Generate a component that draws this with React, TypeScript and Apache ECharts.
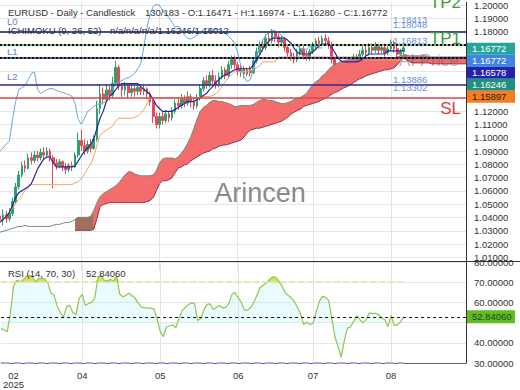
import React, { useEffect, useRef } from 'react';
import * as echarts from 'echarts';

// ---------- data ----------
const SLOTS = 150; // bar slots (130 candles + future space for the cloud)
const slotLabels: string[] = Array.from({ length: SLOTS }, (_, i) => String(i));

const monthLabels: Record<number, string> = { 4: '02\n2025', 26: '04', 51: '05', 76: '06', 100: '07', 125: '08' };
const monthLines = [26, 51, 76, 100, 125];

// [open, close, low, high]
const candles: number[][] = [
  [1.041, 1.038, 1.035, 1.044], [1.038, 1.042, 1.034, 1.046], [1.042, 1.039, 1.036, 1.045], [1.039, 1.043, 1.037, 1.047],
  [1.043, 1.052, 1.041, 1.055], [1.052, 1.063, 1.050, 1.066], [1.063, 1.072, 1.061, 1.075], [1.072, 1.079, 1.070, 1.082],
  [1.079, 1.077, 1.074, 1.083], [1.077, 1.085, 1.076, 1.088], [1.085, 1.083, 1.080, 1.089], [1.083, 1.087, 1.081, 1.090],
  [1.087, 1.085, 1.082, 1.090], [1.085, 1.089, 1.083, 1.092], [1.089, 1.087, 1.084, 1.093], [1.087, 1.090, 1.085, 1.093],
  [1.090, 1.085, 1.082, 1.092], [1.085, 1.081, 1.062, 1.087], [1.081, 1.079, 1.076, 1.084], [1.079, 1.082, 1.077, 1.084],
  [1.082, 1.078, 1.075, 1.083], [1.078, 1.076, 1.073, 1.081], [1.076, 1.079, 1.074, 1.081], [1.079, 1.078, 1.075, 1.082],
  [1.078, 1.087, 1.077, 1.089], [1.087, 1.098, 1.085, 1.104], [1.098, 1.094, 1.090, 1.106], [1.094, 1.090, 1.087, 1.099],
  [1.090, 1.095, 1.088, 1.098], [1.095, 1.092, 1.089, 1.099], [1.092, 1.099, 1.091, 1.102], [1.099, 1.122, 1.097, 1.128],
  [1.122, 1.133, 1.118, 1.140], [1.133, 1.129, 1.125, 1.138], [1.129, 1.136, 1.127, 1.140], [1.136, 1.132, 1.128, 1.139],
  [1.132, 1.141, 1.130, 1.146], [1.141, 1.153, 1.139, 1.158], [1.153, 1.139, 1.136, 1.155], [1.139, 1.136, 1.131, 1.141],
  [1.136, 1.139, 1.132, 1.142], [1.139, 1.134, 1.130, 1.141], [1.134, 1.137, 1.131, 1.140], [1.137, 1.135, 1.131, 1.139],
  [1.135, 1.138, 1.132, 1.141], [1.138, 1.135, 1.132, 1.140], [1.135, 1.137, 1.132, 1.140], [1.137, 1.133, 1.129, 1.138],
  [1.133, 1.127, 1.124, 1.135], [1.127, 1.116, 1.111, 1.129], [1.116, 1.110, 1.107, 1.119], [1.110, 1.116, 1.107, 1.119],
  [1.116, 1.113, 1.110, 1.120], [1.113, 1.118, 1.111, 1.121], [1.118, 1.115, 1.112, 1.120], [1.115, 1.120, 1.113, 1.123],
  [1.120, 1.126, 1.118, 1.129], [1.126, 1.124, 1.121, 1.130], [1.124, 1.129, 1.122, 1.133], [1.129, 1.126, 1.123, 1.132],
  [1.126, 1.131, 1.124, 1.135], [1.131, 1.127, 1.123, 1.133], [1.127, 1.124, 1.121, 1.130], [1.124, 1.130, 1.122, 1.133],
  [1.130, 1.137, 1.128, 1.140], [1.137, 1.143, 1.135, 1.146], [1.143, 1.140, 1.137, 1.147], [1.140, 1.147, 1.138, 1.150],
  [1.147, 1.143, 1.140, 1.151], [1.143, 1.140, 1.137, 1.147], [1.140, 1.146, 1.138, 1.149], [1.146, 1.151, 1.144, 1.154],
  [1.151, 1.147, 1.144, 1.153], [1.147, 1.155, 1.145, 1.158], [1.155, 1.159, 1.152, 1.162], [1.159, 1.155, 1.152, 1.162],
  [1.155, 1.150, 1.147, 1.157], [1.150, 1.152, 1.146, 1.155], [1.152, 1.148, 1.145, 1.154], [1.148, 1.151, 1.146, 1.153],
  [1.151, 1.149, 1.146, 1.154], [1.149, 1.158, 1.148, 1.161], [1.158, 1.165, 1.156, 1.168], [1.165, 1.170, 1.163, 1.173],
  [1.170, 1.168, 1.165, 1.174], [1.168, 1.175, 1.166, 1.178], [1.175, 1.173, 1.170, 1.179], [1.173, 1.179, 1.171, 1.182],
  [1.179, 1.176, 1.172, 1.181], [1.176, 1.172, 1.168, 1.178], [1.172, 1.174, 1.169, 1.177], [1.174, 1.168, 1.165, 1.176],
  [1.168, 1.164, 1.161, 1.170], [1.164, 1.161, 1.158, 1.167], [1.161, 1.159, 1.156, 1.164], [1.159, 1.164, 1.157, 1.167],
  [1.164, 1.167, 1.162, 1.170], [1.167, 1.162, 1.159, 1.169], [1.162, 1.160, 1.158, 1.166], [1.160, 1.165, 1.158, 1.167],
  [1.165, 1.170, 1.163, 1.172], [1.170, 1.173, 1.167, 1.175], [1.173, 1.171, 1.168, 1.176], [1.171, 1.175, 1.169, 1.177],
  [1.175, 1.173, 1.170, 1.178], [1.173, 1.170, 1.167, 1.176], [1.170, 1.159, 1.156, 1.172], [1.159, 1.150, 1.147, 1.161],
  [1.150, 1.142, 1.139, 1.152], [1.142, 1.140, 1.1385, 1.146], [1.140, 1.147, 1.139, 1.149], [1.147, 1.153, 1.145, 1.156],
  [1.153, 1.157, 1.151, 1.159], [1.157, 1.161, 1.155, 1.163], [1.161, 1.159, 1.156, 1.163], [1.159, 1.163, 1.157, 1.166],
  [1.163, 1.166, 1.161, 1.169], [1.166, 1.164, 1.161, 1.169], [1.164, 1.168, 1.162, 1.171], [1.168, 1.166, 1.163, 1.171],
  [1.166, 1.169, 1.164, 1.172], [1.169, 1.166, 1.163, 1.171], [1.166, 1.168, 1.164, 1.170], [1.168, 1.164, 1.161, 1.170],
  [1.164, 1.167, 1.162, 1.169], [1.167, 1.172, 1.165, 1.174], [1.172, 1.167, 1.164, 1.173], [1.167, 1.163, 1.160, 1.169],
  [1.163, 1.1647, 1.161, 1.167], [1.16471, 1.16772, 1.1628, 1.16974],
];

const tenkan: number[] = [
  1.0363, 1.0386, 1.0408, 1.0438, 1.049, 1.055, 1.0587, 1.0602, 1.0617, 1.0632,
  1.0654, 1.0707, 1.0766, 1.0804, 1.0841, 1.0856, 1.0856, 1.0811, 1.0781, 1.0781,
  1.0781, 1.0781, 1.0781, 1.0781, 1.0788, 1.0826, 1.0863, 1.09, 1.0923, 1.0952,
  1.099, 1.1072, 1.1147, 1.1199, 1.1273, 1.1311, 1.1333, 1.1363, 1.1393, 1.1408,
  1.1408, 1.1408, 1.1408, 1.1408, 1.1408, 1.1385, 1.1363, 1.1348, 1.1326, 1.1288,
  1.1244, 1.1221, 1.1199, 1.1199, 1.1199, 1.1199, 1.1214, 1.1229, 1.1244, 1.1258,
  1.1273, 1.1273, 1.1273, 1.1288, 1.1303, 1.1318, 1.1333, 1.1363, 1.1385, 1.1415,
  1.1438, 1.146, 1.1475, 1.1482, 1.1497, 1.1512, 1.152, 1.152, 1.152, 1.152,
  1.152, 1.1549, 1.1587, 1.1624, 1.1669, 1.1699, 1.1728, 1.1751, 1.1751, 1.1751,
  1.1751, 1.1751, 1.1736, 1.1713, 1.1676, 1.1646, 1.1631, 1.1631, 1.1631, 1.1631,
  1.1646, 1.1669, 1.1691, 1.1706, 1.1706, 1.1706, 1.1684, 1.1646, 1.1602, 1.1579,
  1.1572, 1.1572, 1.1572, 1.1572, 1.1572, 1.1579, 1.1594, 1.1617, 1.1631, 1.1631,
  1.1631, 1.1631, 1.1631, 1.1631, 1.1654, 1.1654, 1.1654, 1.1654, 1.1654, 1.16578,
];

const kijun: number[] = [
  1.0378, 1.0393, 1.0408, 1.0438, 1.0468, 1.0505, 1.0535, 1.0565, 1.0602, 1.0624,
  1.0647, 1.0647, 1.0647, 1.0647, 1.0647, 1.0647, 1.0647, 1.0647, 1.0647, 1.0647,
  1.0647, 1.0647, 1.0647, 1.0647, 1.0662, 1.0669, 1.0692, 1.0729, 1.0766, 1.0804,
  1.0856, 1.0945, 1.102, 1.1042, 1.1057, 1.1072, 1.1087, 1.1124, 1.1147, 1.1147,
  1.1147, 1.1147, 1.1147, 1.1154, 1.1162, 1.1184, 1.1214, 1.1258, 1.1303, 1.1303,
  1.1303, 1.1303, 1.1303, 1.1303, 1.1303, 1.1303, 1.1303, 1.1303, 1.1303, 1.1303,
  1.1303, 1.1303, 1.1303, 1.1303, 1.1311, 1.1311, 1.1311, 1.1311, 1.1318, 1.1333,
  1.1355, 1.1393, 1.1423, 1.1453, 1.1475, 1.1497, 1.1497, 1.1497, 1.1497, 1.1497,
  1.1505, 1.1512, 1.1527, 1.1542, 1.1572, 1.1572, 1.1572, 1.1572, 1.1572, 1.1609,
  1.1609, 1.1609, 1.1609, 1.1609, 1.1609, 1.1609, 1.1609, 1.1609, 1.1609, 1.1609,
  1.1609, 1.1609, 1.1609, 1.1609, 1.1609, 1.1609, 1.1609, 1.1609, 1.1609, 1.1609,
  1.1609, 1.1609, 1.1609, 1.1609, 1.1609, 1.1609, 1.1587, 1.1587, 1.1587, 1.1587,
  1.1587, 1.1587, 1.1587, 1.1587, 1.1587, 1.1587, 1.1587, 1.1587, 1.1587, 1.15897,
];

// light-blue lagging line (slots 0..103)
const lagging: number[] = [
  1.09, 1.0923, 1.0953, 1.0975, 1.1139, 1.1273, 1.1363, 1.1378, 1.1393, 1.1438,
  1.1482, 1.1497, 1.1363, 1.1333, 1.1348, 1.1363, 1.137, 1.137, 1.1356, 1.1348,
  1.1341, 1.1333, 1.1326, 1.1311, 1.1258, 1.1139, 1.1102, 1.1147, 1.1199, 1.1214,
  1.1236, 1.1251, 1.1258, 1.1266, 1.1273, 1.1311, 1.1363, 1.1408, 1.1423, 1.143,
  1.1445, 1.1453, 1.1467, 1.1482, 1.152, 1.1557, 1.1684, 1.1833, 1.193, 1.199,
  1.2005, 1.1997, 1.196, 1.193, 1.1907, 1.187, 1.1833, 1.184, 1.1811, 1.1773,
  1.1751, 1.1743, 1.1758, 1.1773, 1.1796, 1.1811, 1.1825, 1.1818, 1.1811, 1.1818,
  1.1818, 1.1803, 1.1788, 1.1766, 1.1743, 1.1714, 1.1646, 1.1542, 1.146, 1.1423,
  1.1438, 1.1512, 1.1609, 1.1676, 1.1736, 1.1773, 1.1796, 1.1811, 1.1803, 1.1788,
  1.1773, 1.1751, 1.1729, 1.1714, 1.1699, 1.1691, 1.1676, 1.1661, 1.1669, 1.1684,
  1.1691, 1.1684, 1.1676, 1.16772,
];

// Senkou span A (upper cloud edge), already shifted forward, one value per slot
const spanA: number[] = [
  1.0289, 1.0296, 1.0303, 1.0311, 1.0318, 1.0326, 1.0333, 1.0333, 1.0341, 1.0333,
  1.0333, 1.0333, 1.0333, 1.0333, 1.0333, 1.0333, 1.0333, 1.0341, 1.0348, 1.0348,
  1.0356, 1.0363, 1.0363, 1.0371, 1.0386, 1.0401, 1.0401, 1.0401, 1.0401, 1.0408,
  1.0453, 1.0512, 1.0557, 1.058, 1.0594, 1.0609, 1.0624, 1.0639, 1.0662, 1.0691,
  1.0721, 1.0744, 1.0744, 1.0729, 1.0721, 1.0714, 1.0714, 1.0714, 1.0714, 1.0721,
  1.0751, 1.0811, 1.0841, 1.0848, 1.0848, 1.0848, 1.0841, 1.0856, 1.0885, 1.0915,
  1.096, 1.1005, 1.1072, 1.1139, 1.1199, 1.1229, 1.1244, 1.1266, 1.1281, 1.1281,
  1.1273, 1.1273, 1.1266, 1.1258, 1.1251, 1.1236, 1.1236, 1.1244, 1.1244, 1.1244,
  1.1244, 1.1251, 1.1266, 1.1281, 1.1288, 1.1288, 1.1281, 1.1281, 1.1273, 1.1266,
  1.1258, 1.1258, 1.1266, 1.1273, 1.1288, 1.1296, 1.1303, 1.1318, 1.1333, 1.137,
  1.14, 1.1423, 1.1438, 1.1467, 1.1482, 1.1512, 1.1535, 1.1549, 1.1564, 1.1572,
  1.1579, 1.1587, 1.1587, 1.1587, 1.1587, 1.1594, 1.1594, 1.1594, 1.1594, 1.1594,
  1.1594, 1.1602, 1.1602, 1.1602, 1.1602, 1.1602, 1.1602, 1.1609, 1.1617, 1.16246,
  1.1624, 1.1617, 1.1617, 1.1617, 1.1617, 1.1617, 1.1617, 1.1609, 1.1609, 1.1609,
  1.1609, 1.1609, 1.1609, 1.1609, 1.1609, 1.1609, 1.1609, 1.1609, 1.1609, 1.1609,
];

// Senkou span B (lower cloud edge) starting at slot SPANB_START
const SPANB_START = 24;
const spanB: number[] = [
  1.0303, 1.0303, 1.0303, 1.0303, 1.0303, 1.0303,
  1.0311, 1.0393, 1.0482, 1.0497, 1.0505, 1.0512, 1.0512, 1.0512, 1.0512, 1.0512,
  1.0512, 1.0512, 1.0512, 1.0512, 1.0512, 1.0512, 1.0512, 1.052, 1.0527, 1.055,
  1.0602, 1.0654, 1.0676, 1.0676, 1.0684, 1.0699, 1.0736, 1.0773, 1.0781, 1.0796,
  1.0804, 1.0826, 1.0841, 1.0856, 1.087, 1.0885, 1.0893, 1.09, 1.0915, 1.0923,
  1.0937, 1.0945, 1.0945, 1.0952, 1.096, 1.0967, 1.0975, 1.0982, 1.1005, 1.1035,
  1.1057, 1.1064, 1.1072, 1.1072, 1.1079, 1.1087, 1.1094, 1.1102, 1.1109, 1.1117,
  1.1124, 1.1139, 1.1154, 1.1177, 1.1192, 1.1206, 1.1214, 1.1236, 1.1244, 1.1251,
  1.1258, 1.1266, 1.1273, 1.1288, 1.1296, 1.1311, 1.1326, 1.1341, 1.1348, 1.1363,
  1.1378, 1.1385, 1.14, 1.1415, 1.143, 1.1445, 1.1453, 1.1467, 1.1475, 1.1482,
  1.149, 1.1497, 1.1505, 1.1512, 1.1512, 1.152, 1.1527, 1.1549, 1.1579, 1.16012,
  1.1587, 1.1572, 1.1564, 1.1564, 1.1564, 1.1564, 1.1564, 1.1564, 1.1557, 1.1557,
  1.1557, 1.1557, 1.1557, 1.1557, 1.1557, 1.1557, 1.1557, 1.1557, 1.1557, 1.1557,
];
const BROWN_END = 30; // cloud turns red from this slot

const rsi: number[] = [
  47, 46.3, 45.5, 55, 68, 71, 70.3, 71, 72.8, 73.4,
  72.8, 70, 71.8, 72, 71.5, 69.7, 64.6, 63.5, 58, 55,
  52.6, 58, 58.5, 55, 54, 62, 64, 58.5, 59.5, 60,
  62, 72, 73.5, 71, 70.5, 71.5, 70.5, 73, 64.3, 62.7,
  63.5, 64.6, 63.3, 62, 59.5, 57.7, 57.4, 57.2, 57.2, 56.8,
  52, 45.5, 43, 47.8, 48.3, 48.8, 47.4, 52, 55.8, 57.5,
  58.8, 59.8, 59.5, 51, 52, 56.3, 59, 59.3, 56.5, 57.5,
  58.5, 57.2, 57.5, 59.5, 64, 65, 62.2, 60, 56.2, 56.2,
  57.5, 60, 63.5, 67.4, 68.5, 69.6, 71.3, 72.6, 72.4, 70.5,
  68.2, 65, 63.5, 62.2, 60.3, 57.5, 54.2, 49, 50.2, 49,
  49.7, 55.5, 60.5, 63, 62.5, 61, 52, 43, 38, 32.8,
  41, 47.3, 47.8, 50.6, 53.5, 51.5, 49.9, 51.6, 54.8, 54.5,
  54.6, 54, 52.3, 51.4, 48, 53.5, 48.5, 48.9, 50.3, 52.84,
];

const levels = [
  { name: 'TP2', value: 1.18413, color: '#4caf50', tag: '' },
  { name: 'L0', value: 1.18048, color: '#2c2c8c', tag: 'L0' },
  { name: 'TP1', value: 1.16813, color: '#4caf50', tag: '' },
  { name: 'L1', value: 1.1575, color: '#2c2c8c', tag: 'L1' },
  { name: 'L2', value: 1.13886, color: '#2c2c8c', tag: 'L2' },
  { name: 'SL', value: 1.13302, color: '#e04848', tag: '' },
];
const levelPriceLabels = [1.18413, 1.18048, 1.16813, 1.13886, 1.13302];

const priceTags = [
  { value: 1.16772, bg: '#26a69a', fg: '#ffffff' },
  { value: 1.16772, bg: '#3f84e5', fg: '#ffffff' },
  { value: 1.16578, bg: '#2222aa', fg: '#ffffff' },
  { value: 1.16246, bg: '#1f8f80', fg: '#ffffff' },
  { value: 1.15897, bg: '#f57c1f', fg: '#222222' },
];
const rsiLast = 52.8406;

// price axis extent (top of the pane is a little above 1.20)
const PRICE_MIN = 1.0;
const PRICE_MAX = 1.20194;

const FONT = 'Liberation Sans, Arial, sans-serif';

export default function App() {
  const ref = useRef<HTMLDivElement>(null);

  useEffect(() => {
    document.body.style.margin = '0';
    const chart = echarts.init(ref.current!, null, { renderer: 'svg' });

    const idx = slotLabels.map((_, i) => i);
    const spanBData = idx.map((i) => (i < SPANB_START ? null : spanB[i - SPANB_START] ?? null));
    const inBrown = (i: number) => i >= SPANB_START && i <= BROWN_END;
    const inRed = (i: number) => i >= BROWN_END;
    const brownBase = idx.map((i) => (inBrown(i) ? spanBData[i] : null));
    const brownFill = idx.map((i) => (inBrown(i) && spanBData[i] != null ? spanA[i] - (spanBData[i] as number) : null));
    const redBase = idx.map((i) => (inRed(i) ? spanBData[i] : null));
    const redFill = idx.map((i) => (inRed(i) && spanBData[i] != null ? spanA[i] - (spanBData[i] as number) : null));
    const rsiOver = rsi.map((v) => Math.max(v, 70));
    const lastIdx = String(candles.length - 1);

    // axis labels hidden behind the stacked price tags
    const tagLo = 1.125;
    const tagHi = 1.175;

    const splitX = {
      show: true,
      interval: (i: number) => monthLines.includes(i),
      lineStyle: { color: '#e4e4e4', width: 1 },
    };

    const option: any = {
      animation: false,
      textStyle: { fontFamily: FONT },
      grid: [
        { left: 0, width: 466, top: 0, height: 270.6, show: false },
        { left: 0, width: 466, top: 262, height: 101, show: false },
      ],
      xAxis: [
        {
          type: 'category', gridIndex: 0, data: slotLabels, boundaryGap: false,
          axisLine: { show: false }, axisTick: { show: false }, axisLabel: { show: false },
          splitLine: splitX,
        },
        {
          type: 'category', gridIndex: 1, data: slotLabels, boundaryGap: false,
          axisLine: { show: true, lineStyle: { color: '#666' } }, axisTick: { show: false },
          axisLabel: {
            interval: (i: number) => monthLabels[i] !== undefined,
            formatter: (_v: string, i: number) => monthLabels[i] ?? '',
            color: '#333', fontSize: 9.5, margin: 8, lineHeight: 9, fontFamily: FONT,
          },
          splitLine: splitX,
        },
      ],
      yAxis: [
        {
          type: 'value', gridIndex: 0, position: 'right', min: PRICE_MIN, max: PRICE_MAX, interval: 0.01,
          axisLine: { show: true, lineStyle: { color: '#333' } }, axisTick: { show: false },
          axisLabel: {
            color: '#333', fontSize: 9.5, margin: 8, fontFamily: FONT,
            formatter: (v: number) => {
              const onTick = Math.abs(v * 100 - Math.round(v * 100)) < 1e-6;
              if (!onTick || v < 1.005 || (v > tagLo && v < tagHi)) return '';
              return v.toFixed(5);
            },
          },
          splitLine: { show: true, showMinLine: false, showMaxLine: false, lineStyle: { color: '#e6e6e6' } },
        },
        {
          type: 'value', gridIndex: 1, position: 'right', min: 30, max: 80, interval: 10,
          axisLine: { show: true, lineStyle: { color: '#333' } }, axisTick: { show: false },
          axisLabel: {
            color: '#333', fontSize: 9.5, margin: 8, fontFamily: FONT,
            formatter: (v: number) => (Math.abs(v - 50) < 0.01 ? '' : v.toFixed(5)),
          },
          splitLine: { show: true, lineStyle: { color: '#e6e6e6' } },
        },
      ],
      series: [
        // cloud (brown part)
        { type: 'line', name: 'cb0', data: brownBase, stack: 'brown', symbol: 'none', lineStyle: { width: 0, opacity: 0 }, silent: true },
        { type: 'line', name: 'cb1', data: brownFill, stack: 'brown', symbol: 'none', lineStyle: { width: 0, opacity: 0 }, areaStyle: { color: '#a0705c', opacity: 1 }, silent: true },
        // cloud (red part)
        { type: 'line', name: 'cr0', data: redBase, stack: 'red', symbol: 'none', lineStyle: { width: 0, opacity: 0 }, silent: true },
        { type: 'line', name: 'cr1', data: redFill, stack: 'red', symbol: 'none', lineStyle: { width: 0, opacity: 0 }, areaStyle: { color: '#f46c6c', opacity: 1 }, silent: true },
        // cloud edges
        { type: 'line', name: 'spanA', data: spanA, symbol: 'none', lineStyle: { color: '#6c8c7c', width: 1 }, silent: true },
        { type: 'line', name: 'spanB', data: spanBData, symbol: 'none', lineStyle: { color: '#9c2f3c', width: 1 }, silent: true },
        // lagging line, kijun, tenkan
        { type: 'line', name: 'lagging', data: lagging, symbol: 'none', lineStyle: { color: '#6aa5de', width: 1 }, silent: true },
        { type: 'line', name: 'kijun', data: kijun, symbol: 'none', lineStyle: { color: '#f5a15e', width: 1 }, silent: true },
        { type: 'line', name: 'tenkan', data: tenkan, symbol: 'none', lineStyle: { color: '#27279a', width: 1.2 }, silent: true },
        // candles
        {
          type: 'candlestick', name: 'EURUSD', data: candles, barWidth: 2.2, silent: true,
          itemStyle: { color: '#2ea06a', color0: '#e8485a', borderColor: '#2ea06a', borderColor0: '#e8485a', borderWidth: 1 },
          markLine: {
            silent: true, symbol: ['none', 'none'], label: { show: false },
            data: [
              ...levels.map((l) => ({ yAxis: l.value, lineStyle: { color: l.color, width: 1.5, type: 'solid' } })),
              ...priceTags.map((t) => ({ yAxis: t.value, lineStyle: { color: '#111', width: 2, type: [2, 2] } })),
            ],
          },
        },
        // RSI pane
        {
          type: 'line', name: 'rsiBand', xAxisIndex: 1, yAxisIndex: 1, data: rsi, symbol: 'none', silent: true,
          lineStyle: { width: 0, opacity: 0 }, areaStyle: { origin: 50, color: 'rgba(185,243,250,0.45)' },
        },
        {
          type: 'line', name: 'rsiOver', xAxisIndex: 1, yAxisIndex: 1, data: rsiOver, symbol: 'none', silent: true,
          lineStyle: { width: 0, opacity: 0 }, areaStyle: { origin: 70, color: '#d6df4c', opacity: 0.9 },
        },
        {
          type: 'line', name: 'RSI', xAxisIndex: 1, yAxisIndex: 1, data: rsi, symbol: 'none', silent: true,
          lineStyle: { color: '#93c64a', width: 1.2 },
          markLine: {
            silent: true, symbol: ['none', 'none'], label: { show: false },
            data: [
              [{ coord: ['0', 70], lineStyle: { color: '#e6e39a', width: 1.5 } }, { coord: [lastIdx, 70] }],
              [{ coord: ['0', 30], lineStyle: { color: '#b7a3de', width: 2 } }, { coord: [lastIdx, 30] }],
              { yAxis: rsiLast, lineStyle: { color: '#111', width: 1.2, type: [3, 3] } },
            ],
          },
        },
      ],
    };

    chart.setOption(option);

    const py = (v: number) => chart.convertToPixel({ yAxisIndex: 0 }, v) as number;
    const ry = (v: number) => chart.convertToPixel({ yAxisIndex: 1 }, v) as number;

    const txt = (text: string, x: number, y: number, fill: string, size: number, align = 'left', z = 50) => ({
      type: 'text', x, y, z, silent: true,
      style: { text, fill, fontSize: size, fontFamily: FONT, textAlign: align, textVerticalAlign: 'middle' },
    });

    const els: any[] = [];
    // watermarks
    els.push(txt('Arincen', 260, 193, '#8a8a8a', 27, 'center', 0));
    els.push(txt('AI Price', 399, py(1.1575) - 1, 'rgba(105,105,105,0.5)', 17, 'left', 3));
    // headers
    els.push(txt('EURUSD - Daily - Candlestick', 8, 12, '#333', 9.5));
    els.push(txt('130/183 - O:1.16471 - H:1.16974 - L:1.16280 - C:1.16772', 145, 12, '#333', 9.5));
    els.push(txt('ICHIMOKU (9, 26, 52)', 8, 30, '#2a2a55', 9.5));
    els.push(txt('n/a/n/a/n/a/1.16246/1.16012', 110, 30, '#2a2a55', 9.5));
    els.push(txt('RSI (14, 70, 30)', 8, 273, '#333', 9.5));
    els.push(txt('52.84060', 86, 273, '#333', 9.5));
    // level names
    levels.filter((l) => l.tag).forEach((l) => els.push(txt(l.tag, 7, py(l.value) - 9.5, '#6680d0', 9.5)));
    levelPriceLabels.forEach((v) => els.push(txt(v.toFixed(5), 393, py(v) - 6.5, '#6d8fd8', 9.5)));
    els.push(txt('TP2', 461, py(1.18413) - 24, '#3c9c3c', 17, 'right'));
    els.push(txt('TP1', 461, py(1.16813) - 9, '#3c9c3c', 17, 'right'));
    els.push(txt('SL', 461, py(1.13302) + 15, '#e03c3c', 17, 'right'));
    // pane separator
    els.push({ type: 'line', z: 40, silent: true, shape: { x1: 0, y1: 261.5, x2: 520, y2: 261.5 }, style: { stroke: '#333', lineWidth: 1 } });
    // price tags on the right axis
    let prev = -Infinity;
    priceTags.forEach((t) => {
      const c = Math.max(py(t.value) + 1, prev + 12);
      prev = c;
      els.push({ type: 'rect', z: 60, silent: true, shape: { x: 467, y: c - 6, width: 48, height: 12 }, style: { fill: t.bg } });
      els.push(txt(t.value.toFixed(5), 472, c, t.fg, 9.5, 'left', 61));
    });
    const rc = ry(rsiLast);
    els.push({ type: 'rect', z: 60, silent: true, shape: { x: 467, y: rc - 6.5, width: 48, height: 13 }, style: { fill: '#62bb22' } });
    els.push(txt(rsiLast.toFixed(5), 472, rc, '#1d4a10', 9.5, 'left', 61));

    chart.setOption({ graphic: { elements: els } });

    return () => chart.dispose();
  }, []);

  return <div ref={ref} style={{ position: 'absolute', left: 0, top: 0, width: 520, height: 390 }} />;
}
